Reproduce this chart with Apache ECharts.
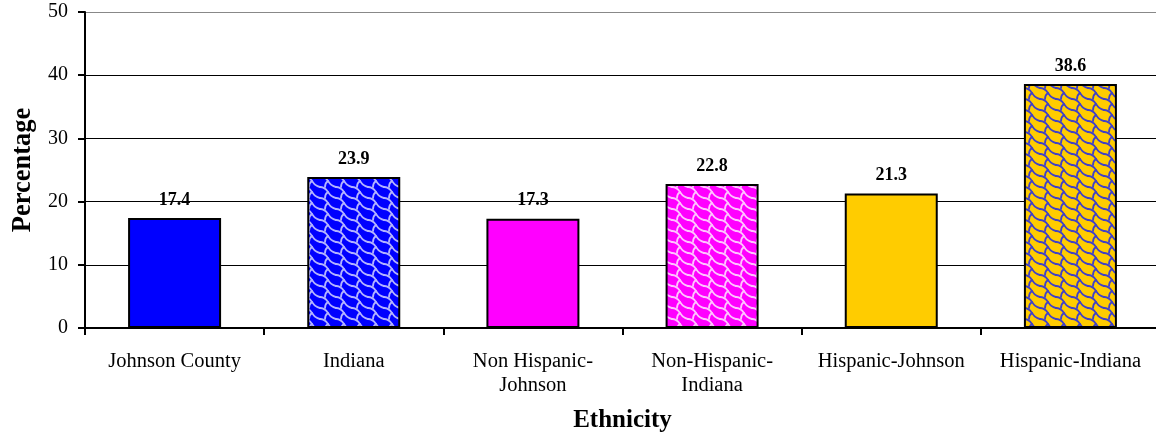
<!DOCTYPE html>
<html>
<head>
<meta charset="utf-8">
<script src="https://cdn.jsdelivr.net/npm/echarts@6/dist/echarts.min.js"></script>
<style>
  html, body { margin: 0; padding: 0; background: #fff; }
  #chart { width: 1156px; height: 436px; }
</style>
</head>
<body>
<div id="chart"></div>
<script>
  var categories = ['Johnson County', 'Indiana', 'Non Hispanic-\nJohnson', 'Non-Hispanic-\nIndiana', 'Hispanic-Johnson', 'Hispanic-Indiana'];
  var values = [17.4, 23.9, 17.3, 22.8, 21.3, 38.6];
  var fillColors = ['#0000ff', '#0000ff', '#ff00ff', '#ff00ff', '#ffcc00', '#ffcc00'];
  var patternColors = [null, '#b4b4ff', null, '#ffc4ff', null, '#4040c8'];

  // repeating tile for the woven fill
  function makePattern(bg, fg) {
    var w = 16, h = 11;
    var c = document.createElement('canvas');
    c.width = w; c.height = h;
    var g = c.getContext('2d');
    g.fillStyle = bg;
    g.fillRect(0, 0, w, h);
    g.strokeStyle = fg;
    g.lineWidth = 1.8;
    g.lineJoin = 'round';
    g.lineCap = 'round';
    for (var ox = -w; ox <= w; ox += w) {
      for (var oy = -h; oy <= h; oy += h) {
        g.beginPath();
        g.moveTo(ox + 0, oy + 0);
        g.quadraticCurveTo(ox + 5, oy + 0, ox + 8, oy + 5);
        g.quadraticCurveTo(ox + 11, oy + 10, ox + 16, oy + 11);
        g.stroke();
        g.beginPath();
        g.moveTo(ox + 8, oy + 5);
        g.quadraticCurveTo(ox + 5, oy + 7, ox + 5, oy + 11);
        g.stroke();
      }
    }
    return c;
  }

  var barData = values.map(function (v, i) {
    var color = patternColors[i]
      ? { image: makePattern(fillColors[i], patternColors[i]), repeat: 'repeat' }
      : fillColors[i];
    return { value: v, itemStyle: { color: color } };
  });

  var chart = echarts.init(document.getElementById('chart'));
  var option = {
    animation: false,
    textStyle: { fontFamily: 'Liberation Serif' },
    grid: { left: 85, right: -4, top: 12, bottom: 108, containLabel: false, outerBoundsMode: 'none' },
    xAxis: {
      type: 'category',
      data: categories,
      name: 'Ethnicity',
      nameLocation: 'middle',
      nameGap: 80,
      nameTextStyle: { fontFamily: 'Liberation Serif', fontSize: 25, fontWeight: 'bold', color: '#000' },
      axisLine: { lineStyle: { color: '#000', width: 2 } },
      axisTick: { show: true, length: 7, lineStyle: { color: '#000', width: 2 } },
      axisLabel: { fontFamily: 'Liberation Serif', fontSize: 20.5, color: '#000', margin: 22, lineHeight: 24, interval: 0 }
    },
    yAxis: {
      type: 'value',
      min: 0,
      max: 50,
      interval: 10,
      name: 'Percentage',
      nameLocation: 'middle',
      nameGap: 48,
      nameTextStyle: { fontFamily: 'Liberation Serif', fontSize: 26.5, fontWeight: 'bold', color: '#000' },
      axisLine: { show: true, lineStyle: { color: '#000', width: 2 } },
      axisTick: { show: true, length: 7, lineStyle: { color: '#000', width: 2 } },
      axisLabel: { fontFamily: 'Liberation Serif', fontSize: 20, color: '#000', margin: 17 },
      splitLine: { show: true, lineStyle: { color: ['#000', '#000', '#000', '#000', '#000', '#888'], width: 1 } }
    },
    series: [{
      type: 'bar',
      data: barData,
      barWidth: 93,
      itemStyle: { borderColor: '#000', borderWidth: 2 },
      label: {
        show: true,
        position: 'top',
        distance: 9,
        fontFamily: 'Liberation Serif',
        fontSize: 18,
        fontWeight: 'bold',
        color: '#000',
        formatter: function (p) { return p.value.toFixed(1); }
      }
    }]
  };
  chart.setOption(option);
</script>
</body>
</html>
